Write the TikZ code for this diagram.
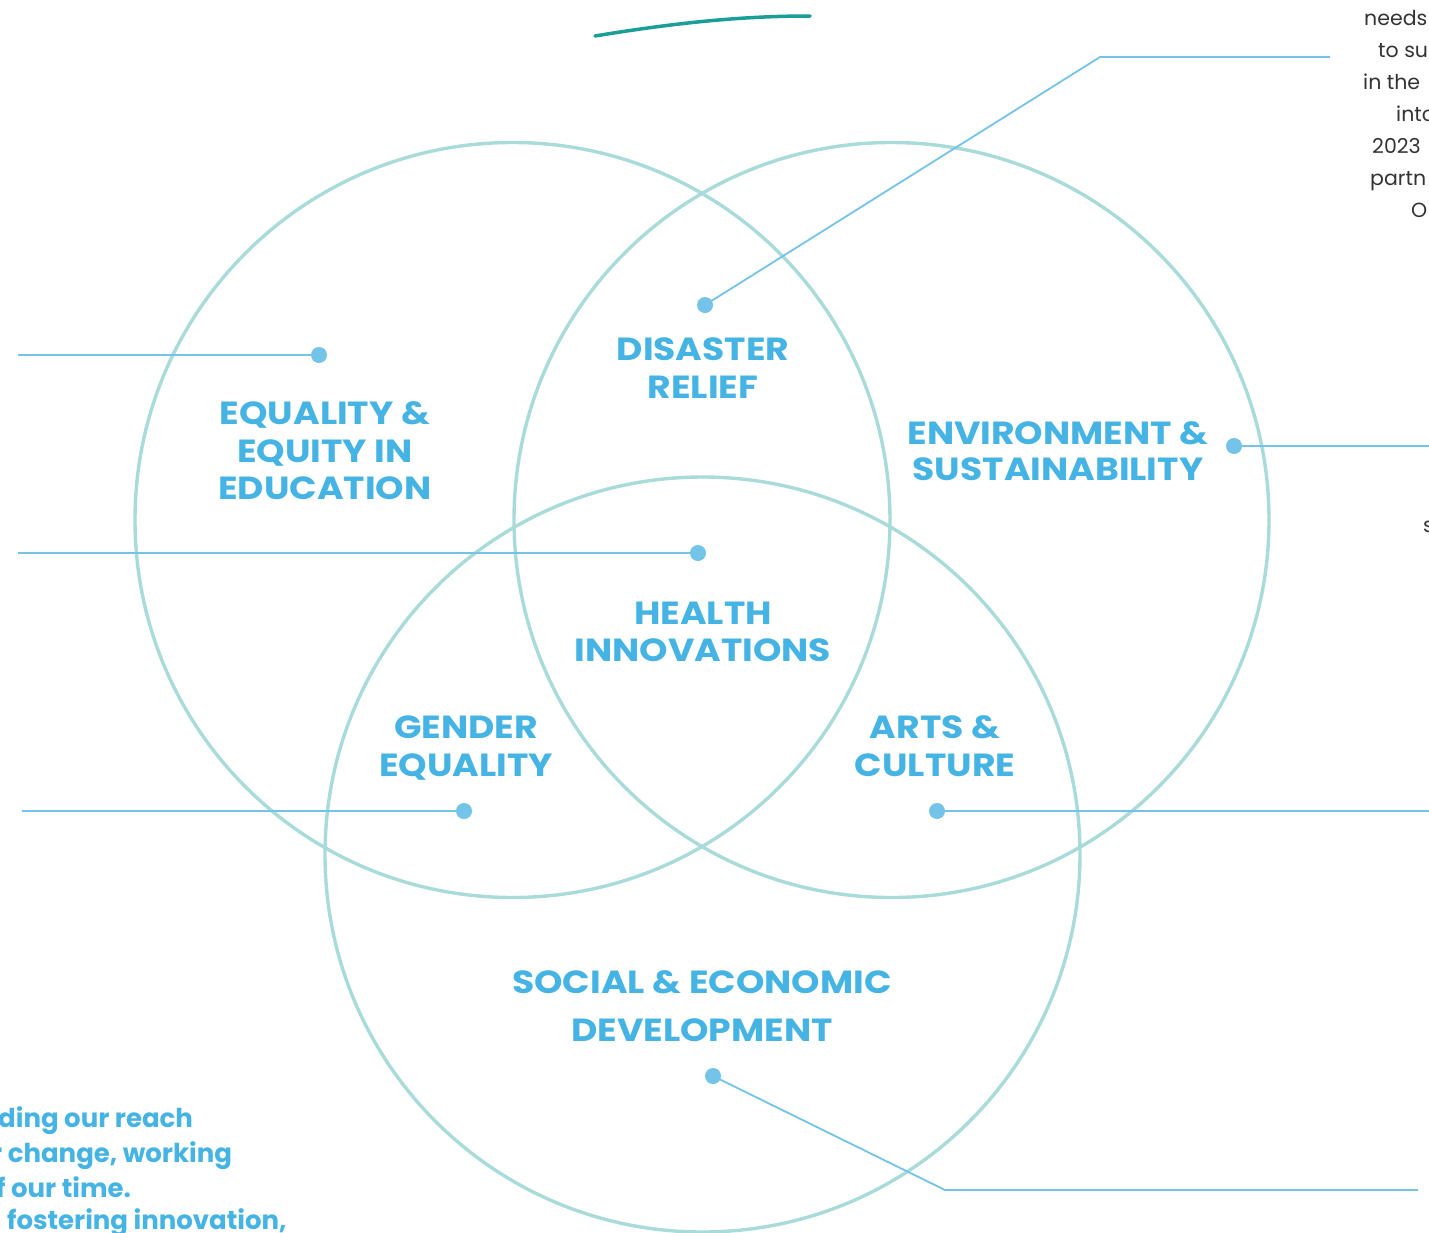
\documentclass[tikz,border=0pt]{standalone}
\usepackage{fontspec}
\setmainfont{Poppins}
\newfontfamily\labfont{Poppins}[FakeStretch=1.13]
\definecolor{ring}{HTML}{A9DBDB}
\definecolor{lab}{HTML}{45B3E3}
\definecolor{con}{HTML}{74C3E8}
\definecolor{teal}{HTML}{1A9E98}
\definecolor{body}{HTML}{333333}
\tikzset{
  ringc/.style={draw=ring, line width=3.4pt},
  lbl/.style={anchor=base, inner sep=0pt, text=lab, font=\labfont\fontsize{32}{32}\selectfont\bfseries},
  dotc/.style={circle, fill=con, inner sep=0pt, minimum size=16pt},
  conn/.style={draw=con, line width=1.8pt},
  grey/.style={anchor=base west, inner sep=0pt, text=body, font=\fontsize{20.5}{20.5}\selectfont},
  blue/.style={anchor=base west, inner sep=0pt, text=lab, font=\fontsize{26}{26}\selectfont\bfseries},
}
\begin{document}
\begin{tikzpicture}[x=1pt,y=-1pt]
\useasboundingbox (0,0) rectangle (1429,1232);
\clip (0,0) rectangle (1429,1232);
\fill[white] (0,0) rectangle (1429,1232);
% circles
\draw[ringc] (512.5,520) circle[radius=377.5pt];
\draw[ringc] (891.5,520) circle[radius=377.5pt];
\draw[ringc] (702.5,854.5) circle[radius=377.5pt];
% teal stroke
\coordinate (ts) at (595,36);
\coordinate (te) at (810,16);
\draw[teal, line width=3.5pt, line cap=round] (ts) .. controls (680,22) and (745,16) .. (te);
% labels
\node[lbl] (dis1) at (703,360) {DISASTER};
\node[lbl] (dis2) at (703,398) {RELIEF};
\node[lbl] (eq1) at (325,424) {EQUALITY \&};
\node[lbl] (eq2) at (325,462) {EQUITY IN};
\node[lbl] (eq3) at (325,499) {EDUCATION};
\node[lbl] (env1) at (1058,444) {ENVIRONMENT \&};
\node[lbl] (env2) at (1058,480) {SUSTAINABILITY};
\node[lbl] (hea1) at (703,624) {HEALTH};
\node[lbl] (hea2) at (703,661) {INNOVATIONS};
\node[lbl] (gen1) at (466,738) {GENDER};
\node[lbl] (gen2) at (466,776) {EQUALITY};
\node[lbl] (art1) at (935,738) {ARTS \&};
\node[lbl] (art2) at (935,776) {CULTURE};
\node[lbl] (soc1) at (702,993) {SOCIAL \& ECONOMIC};
\node[lbl] (soc2) at (702,1041) {DEVELOPMENT};
% dots
\node[dotc] (d1) at (705,305) {};
\node[dotc] (d2) at (319,355) {};
\node[dotc] (d3) at (698,553) {};
\node[dotc] (d4) at (1234,446) {};
\node[dotc] (d5) at (464,811) {};
\node[dotc] (d6) at (937,811) {};
\node[dotc] (d7) at (713,1076) {};
% connector ends
\coordinate (k1) at (1100,57);
\coordinate (e1) at (1330,57);
\coordinate (e2) at (18,355);
\coordinate (e3) at (18,553);
\coordinate (e4) at (1432,446);
\coordinate (e5) at (22,811);
\coordinate (e6) at (1432,811);
\coordinate (k7) at (945,1190);
\coordinate (e7) at (1418,1190);
\draw[conn] (d1.center) -- (k1) -- (e1);
\draw[conn] (d2.center) -- (e2);
\draw[conn] (d3.center) -- (e3);
\draw[conn] (d4.center) -- (e4);
\draw[conn] (d5.center) -- (e5);
\draw[conn] (d6.center) -- (e6);
\draw[conn] (d7.center) -- (k7) -- (e7);
% cut-off grey text, top right
\node[grey] (g1) at (1364,25) {needs};
\node[grey] (g2) at (1378,57) {to su};
\node[grey] (g3) at (1363,89) {in the};
\node[grey] (g4) at (1396,121) {into};
\node[grey] (g5) at (1372,153) {2023};
\node[grey] (g6) at (1370,185) {partn};
\node[grey] (g7) at (1411,217) {O};
\node[grey] (g8) at (1423,532) {s};
% cut-off blue text, bottom left
\node[blue] (b1) at (-2,1127) {ding our reach};
\node[blue] (b2) at (-9,1162) {r change, working};
\node[blue] (b3) at (-4,1197) {f our time.};
\node[blue] (b4) at (-6,1229) {, fostering innovation,};
\end{tikzpicture}
\end{document}
